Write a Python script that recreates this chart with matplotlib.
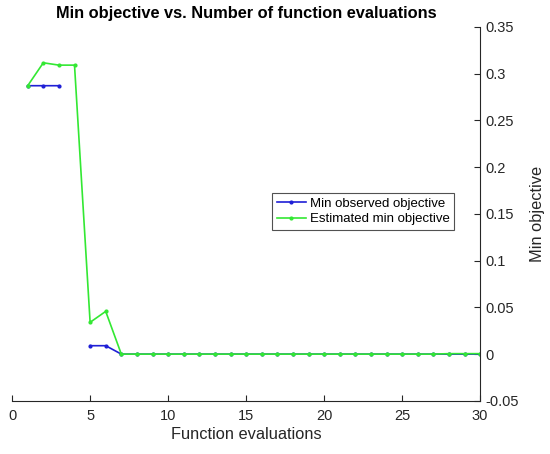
import numpy as np
import matplotlib
matplotlib.use("Agg")
import matplotlib.pyplot as plt

plt.rcParams['font.family'] = ['Liberation Sans', 'DejaVu Sans']

# function evaluation index
evals = list(range(1, 31))

# min observed objective (NaN where the evaluation had no result)
min_observed = [0.287, 0.287, 0.287, np.nan, 0.009, 0.009] + [0.0] * 24

# estimated min objective
est_min = [0.287, 0.3115, 0.309, 0.309, 0.034, 0.0457] + [0.0] * 21 + [0.0005] * 3

fig = plt.figure(figsize=(5.5, 4.54), dpi=100)
ax = fig.add_axes([0.022, 0.117, 0.851, 0.824])

ax.plot(evals, min_observed, color='#1f1fd6', marker='.', markersize=4,
        linewidth=1.2, label='Min observed objective')
ax.plot(evals, est_min, color='#33e833', marker='.', markersize=4,
        linewidth=1.2, label='Estimated min objective')

ax.set_xlim(0, 30)
ax.set_ylim(-0.05, 0.35)
ax.set_xticks(range(0, 31, 5))
ax.set_yticks(np.arange(-0.05, 0.351, 0.05))
ax.set_yticklabels(['-0.05', '0', '0.05', '0.1', '0.15', '0.2', '0.25', '0.3', '0.35'])

ax.spines['top'].set_visible(False)
ax.spines['left'].set_visible(False)
ax.spines['right'].set_color('#262626')
ax.spines['bottom'].set_color('#262626')
ax.yaxis.tick_right()
ax.yaxis.set_label_position('right')
ax.tick_params(direction='in', length=4, labelsize=10.5, colors='#262626',
               labelcolor='#262626')
ax.tick_params(axis='x', pad=6)
ax.tick_params(axis='y', pad=4)

ax.set_xlabel('Function evaluations', fontsize=11.8, color='#262626', labelpad=3)
ax.set_ylabel('Min objective', fontsize=11.8, color='#262626', labelpad=8)
ax.set_title('Min objective vs. Number of function evaluations',
             fontsize=11.8, fontweight='bold', pad=6)

leg = ax.legend(loc='upper left', bbox_to_anchor=(0.556, 0.556), fontsize=9.5,
                frameon=True, fancybox=False, handlelength=2.2,
                borderpad=0.35, labelspacing=0.25, handletextpad=0.3,
                borderaxespad=0)
leg.get_frame().set_edgecolor('#262626')
leg.get_frame().set_linewidth(0.8)

fig.savefig('out.png', dpi=100)
